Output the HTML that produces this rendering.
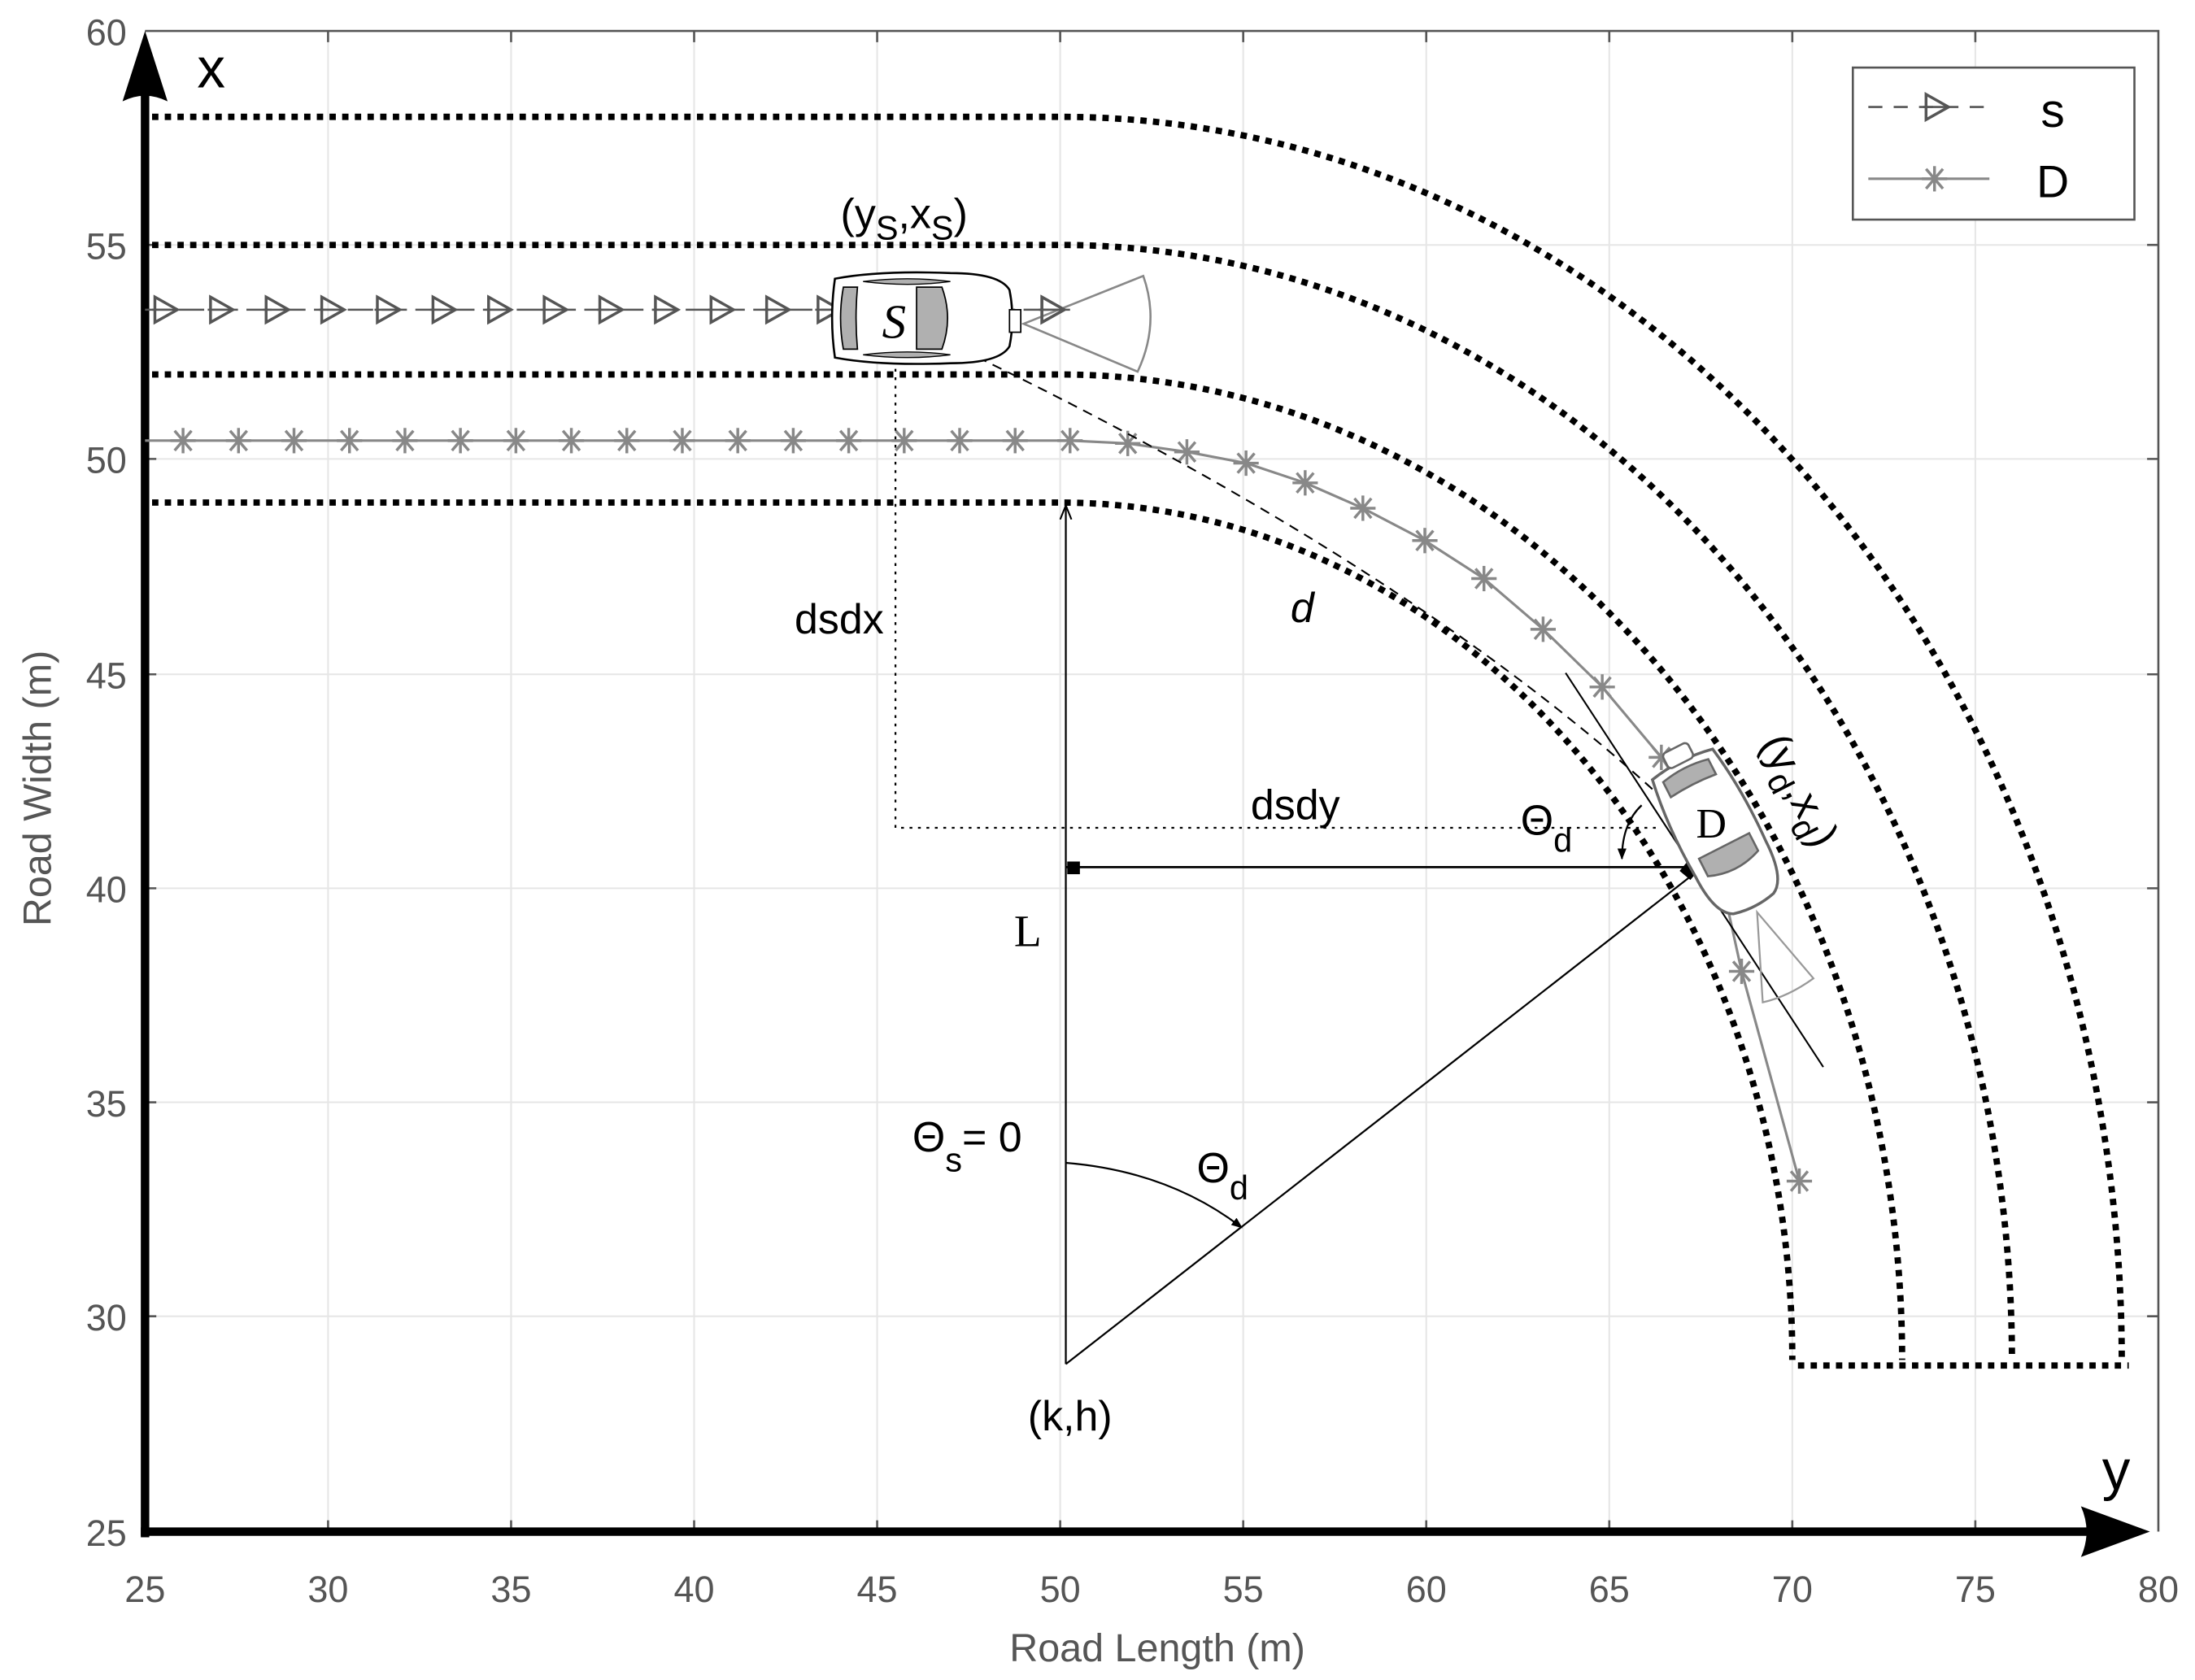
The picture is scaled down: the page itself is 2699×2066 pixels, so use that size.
<!DOCTYPE html>
<html><head><meta charset="utf-8"><style>html,body{margin:0;padding:0;background:#fff}svg{display:block}</style></head>
<body>
<svg width="2699" height="2066" viewBox="0 0 1559 1193.4" xmlns="http://www.w3.org/2000/svg" font-family="Liberation Sans, Arial, sans-serif">
<defs>
<marker id="ah" viewBox="0 0 10 10" refX="9" refY="5" markerWidth="8" markerHeight="8" orient="auto-start-reverse" markerUnits="userSpaceOnUse"><path d="M0,1 L10,5 L0,9 Z" fill="#000"/></marker>
<marker id="ao" viewBox="0 0 10 10" refX="9" refY="5" markerWidth="10" markerHeight="10" orient="auto" markerUnits="userSpaceOnUse"><path d="M0,1 L10,5 L0,9" fill="none" stroke="#000" stroke-width="1.2"/></marker>
<g id="tri"><path d="M-8,-9 L8,0 L-8,9 Z" fill="none" stroke="#555" stroke-width="2"/><line x1="-10" y1="0" x2="8" y2="0" stroke="#555" stroke-width="1.5"/></g>
<g id="star" stroke="#888" stroke-width="2"><line x1="0" y1="-9" x2="0" y2="9"/><line x1="-9" y1="0" x2="9" y2="0"/><line x1="-6" y1="-7" x2="6" y2="7"/><line x1="-6" y1="7" x2="6" y2="-7"/></g>
</defs>
<rect width="1559" height="1193.4" fill="#fff"/>
<!-- grid -->
<g stroke="#e6e6e6" stroke-width="1.2">
<line x1="233" y1="22" x2="233" y2="1088"/><line x1="363" y1="22" x2="363" y2="1088"/><line x1="493" y1="22" x2="493" y2="1088"/><line x1="623" y1="22" x2="623" y2="1088"/><line x1="753" y1="22" x2="753" y2="1088"/><line x1="883" y1="22" x2="883" y2="1088"/><line x1="1013" y1="22" x2="1013" y2="1088"/><line x1="1143" y1="22" x2="1143" y2="1088"/><line x1="1273" y1="22" x2="1273" y2="1088"/><line x1="1403" y1="22" x2="1403" y2="1088"/>
<line x1="103" y1="174" x2="1533" y2="174"/><line x1="103" y1="326" x2="1533" y2="326"/><line x1="103" y1="479" x2="1533" y2="479"/><line x1="103" y1="631" x2="1533" y2="631"/><line x1="103" y1="783" x2="1533" y2="783"/><line x1="103" y1="935" x2="1533" y2="935"/>
</g>
<!-- frame -->
<g stroke="#555" stroke-width="1.5" fill="none">
<path d="M103,22 H1533 V1088"/>
<path d="M233,22v8M363,22v8M493,22v8M623,22v8M753,22v8M883,22v8M1013,22v8M1143,22v8M1273,22v8M1403,22v8"/>
<path d="M233,1088v-8M363,1088v-8M493,1088v-8M623,1088v-8M753,1088v-8M883,1088v-8M1013,1088v-8M1143,1088v-8M1273,1088v-8M1403,1088v-8"/>
<path d="M1533,174h-8M1533,326h-8M1533,479h-8M1533,631h-8M1533,783h-8M1533,935h-8"/>
<path d="M103,174h8M103,326h8M103,479h8M103,631h8M103,783h8M103,935h8"/>
</g>
<!-- tick labels -->
<g fill="#555" font-size="26" text-anchor="middle">
<text x="103" y="1138">25</text><text x="233" y="1138">30</text><text x="363" y="1138">35</text><text x="493" y="1138">40</text><text x="623" y="1138">45</text><text x="753" y="1138">50</text><text x="883" y="1138">55</text><text x="1013" y="1138">60</text><text x="1143" y="1138">65</text><text x="1273" y="1138">70</text><text x="1403" y="1138">75</text><text x="1533" y="1138">80</text>
</g>
<g fill="#555" font-size="26" text-anchor="end">
<text x="90" y="32">60</text><text x="90" y="184">55</text><text x="90" y="336">50</text><text x="90" y="489">45</text><text x="90" y="641">40</text><text x="90" y="793">35</text><text x="90" y="945">30</text><text x="90" y="1098">25</text>
</g>
<text x="822" y="1180" fill="#555" font-size="28" text-anchor="middle">Road Length (m)</text>
<text transform="translate(36,560) rotate(-90)" fill="#555" font-size="28" text-anchor="middle">Road Width (m)</text>
<!-- roads -->
<g fill="none" stroke="#000" stroke-width="4.5" stroke-dasharray="4.5 4.5">
<path d="M108,83 H753 A754,883 0 0 1 1507,966"/>
<path d="M108,174 H753 A676,792 0 0 1 1429,966"/>
<path d="M108,266 H753 A598,700 0 0 1 1351,966"/>
<path d="M108,357 H753 A520,609 0 0 1 1273,966"/>
<path d="M1277,970 H1512"/>
</g>
<!-- axes arrows -->
<line x1="103" y1="1092" x2="103" y2="55" stroke="#000" stroke-width="6"/>
<path d="M103,22 L119,72 Q103,64 87,72 Z" fill="#000"/>
<line x1="100" y1="1088" x2="1490" y2="1088" stroke="#000" stroke-width="6"/>
<path d="M1527,1088 L1478,1106 Q1486,1088 1478,1070 Z" fill="#000"/>
<text x="150" y="62" font-size="40" text-anchor="middle">x</text>
<text x="1503" y="1058" font-size="40" text-anchor="middle">y</text>
<!-- S trajectory -->
<line x1="103" y1="220" x2="760" y2="220" stroke="#555" stroke-width="1.5" stroke-dasharray="18 6"/>
<use href="#tri" x="118" y="220"/><use href="#tri" x="157.5" y="220"/><use href="#tri" x="197" y="220"/><use href="#tri" x="236.5" y="220"/><use href="#tri" x="276" y="220"/><use href="#tri" x="315.5" y="220"/><use href="#tri" x="355" y="220"/><use href="#tri" x="394.5" y="220"/><use href="#tri" x="434" y="220"/><use href="#tri" x="473.5" y="220"/><use href="#tri" x="513" y="220"/><use href="#tri" x="552.5" y="220"/><use href="#tri" x="589" y="220"/><use href="#tri" x="748" y="220"/>
<!-- D trajectory -->
<polyline fill="none" stroke="#888" stroke-width="1.8" points="103,313 760,313 801,315 843,321 885,329 927,343 968,361 1012,384 1054,411 1096,447 1138,488 1180,538 1215,590 1237,690 1278,839"/>
<g>
<use href="#star" x="130" y="313"/><use href="#star" x="169.4" y="313"/><use href="#star" x="208.8" y="313"/><use href="#star" x="248.2" y="313"/><use href="#star" x="287.6" y="313"/><use href="#star" x="327" y="313"/><use href="#star" x="366.4" y="313"/><use href="#star" x="405.8" y="313"/><use href="#star" x="445.2" y="313"/><use href="#star" x="484.6" y="313"/><use href="#star" x="524" y="313"/><use href="#star" x="563.4" y="313"/><use href="#star" x="602.8" y="313"/><use href="#star" x="642.2" y="313"/><use href="#star" x="681.6" y="313"/><use href="#star" x="721" y="313"/><use href="#star" x="760" y="313"/>
<use href="#star" x="801" y="315"/><use href="#star" x="843" y="321"/><use href="#star" x="885" y="329"/><use href="#star" x="927" y="343"/><use href="#star" x="968" y="361"/><use href="#star" x="1012" y="384"/><use href="#star" x="1054" y="411"/><use href="#star" x="1096" y="447"/><use href="#star" x="1138" y="488"/><use href="#star" x="1180" y="538"/><use href="#star" x="1237" y="690"/><use href="#star" x="1278" y="839"/>
</g>
<!-- annotation lines -->
<path d="M636,250 V588 H1180" fill="none" stroke="#000" stroke-width="1.3" stroke-dasharray="2 4"/>
<path d="M640,228 Q1010,400 1205,590" fill="none" stroke="#000" stroke-width="1.2" stroke-dasharray="7 5"/>
<line x1="757" y1="969" x2="757" y2="360" stroke="#000" stroke-width="1.3" marker-end="url(#ao)"/>
<line x1="757" y1="616" x2="1200" y2="616" stroke="#000" stroke-width="1.6"/>
<rect x="758" y="612" width="9" height="9" fill="#000"/>
<rect x="1195" y="613" width="10" height="10" fill="#000" transform="rotate(40 1200 618)"/>
<line x1="757" y1="969" x2="1204" y2="620" stroke="#000" stroke-width="1.3"/>
<line x1="1112" y1="478" x2="1295" y2="758" stroke="#000" stroke-width="1.2"/>
<path d="M1166,572 Q1152,585 1152,610" fill="none" stroke="#000" stroke-width="1.3" marker-end="url(#ah)"/>
<path d="M757,826 Q830,832 882,872" fill="none" stroke="#000" stroke-width="1.3" marker-end="url(#ah)"/>
<!-- S car -->
<g transform="translate(655,226)">
<path d="M-62,-28 Q-66,0 -62,28 Q-30,34 20,32 Q55,32 62,20 Q66,0 62,-20 Q55,-32 20,-32 Q-30,-34 -62,-28 Z" fill="#fff" stroke="#000" stroke-width="1.5"/>
<path d="M-56,-22 Q-60,0 -56,22 L-46,22 Q-48,0 -46,-22 Z" fill="#b0b0b0" stroke="#000" stroke-width="1"/>
<path d="M-4,-22 L14,-22 Q22,0 14,22 L-4,22 Z" fill="#b0b0b0" stroke="#000" stroke-width="1"/>
<path d="M-42,-26 Q-10,-30 20,-26 Q-10,-22 -42,-26Z" fill="#b0b0b0" stroke="#000" stroke-width="0.8"/>
<path d="M-42,26 Q-10,30 20,26 Q-10,22 -42,26Z" fill="#b0b0b0" stroke="#000" stroke-width="0.8"/>
<rect x="62" y="-6" width="8" height="16" fill="#fff" stroke="#000" stroke-width="1"/>
<text x="-20" y="14" font-family="Liberation Serif, serif" font-style="italic" font-size="34" text-anchor="middle">S</text>
</g>
<path d="M727,230 L812,196 Q824,230 808,264 Z" fill="none" stroke="#888" stroke-width="1.5"/>
<use href="#tri" x="748" y="220"/>
<!-- D car -->
<g transform="translate(1220,592) rotate(63)">
<path d="M-55,-24 Q-60,0 -55,24 Q-20,30 20,28 Q50,28 56,16 Q60,0 56,-16 Q50,-28 20,-28 Q-20,-30 -55,-24 Z" fill="#fff" stroke="#666" stroke-width="2"/>
<path d="M-50,-18 Q-54,0 -50,18 L-38,18 Q-40,0 -38,-18 Z" fill="#b0b0b0" stroke="#666" stroke-width="1.5"/>
<path d="M10,-20 L24,-20 Q32,0 24,20 L10,20 Z" fill="#b0b0b0" stroke="#666" stroke-width="1.5"/>
<rect x="-68" y="-10" width="12" height="20" rx="3" fill="#fff" stroke="#666" stroke-width="1.5"/>
<text x="-10" y="12" font-family="Liberation Serif, serif" font-size="30" text-anchor="middle" transform="rotate(-63 -10 0)">D</text>
</g>
<path d="M1248,648 L1288,695 Q1270,708 1252,712 Z" fill="none" stroke="#999" stroke-width="1.3"/>
<!-- labels -->
<text x="597" y="162" font-size="30">(y<tspan font-size="24" dy="8">S</tspan><tspan dy="-8">,x</tspan><tspan font-size="24" dy="8">S</tspan><tspan dy="-8">)</tspan></text>
<text x="596" y="450" font-size="30" text-anchor="middle">dsdx</text>
<text x="925" y="442" font-size="30" font-style="italic" text-anchor="middle">d</text>
<text x="920" y="582" font-size="30" text-anchor="middle">dsdy</text>
<text x="1080" y="593" font-size="30">Θ<tspan font-size="24" dy="12">d</tspan></text>
<text x="730" y="672" font-size="32" font-family="Liberation Serif, serif" text-anchor="middle">L</text>
<text x="648" y="818" font-size="30">Θ<tspan font-size="24" dy="14">s</tspan><tspan dy="-14">= 0</tspan></text>
<text x="850" y="840" font-size="30">Θ<tspan font-size="24" dy="12">d</tspan></text>
<text x="760" y="1016" font-size="30" text-anchor="middle">(k,h)</text>
<text transform="translate(1250,528) rotate(63)" font-size="30">(y<tspan font-size="24" dy="8">d</tspan><tspan dy="-8">,x</tspan><tspan font-size="24" dy="8">d</tspan><tspan dy="-8">)</tspan></text>
<!-- legend -->
<rect x="1316" y="48" width="200" height="108" fill="#fff" stroke="#555" stroke-width="1.5"/>
<line x1="1327" y1="76" x2="1413" y2="76" stroke="#555" stroke-width="1.5" stroke-dasharray="10 8"/>
<use href="#tri" x="1376" y="76"/>
<text x="1458" y="90" font-size="34" text-anchor="middle">s</text>
<line x1="1327" y1="127" x2="1413" y2="127" stroke="#888" stroke-width="1.8"/>
<use href="#star" x="1374" y="127"/>
<text x="1458" y="140" font-size="32" text-anchor="middle">D</text>
</svg>
</body></html>
